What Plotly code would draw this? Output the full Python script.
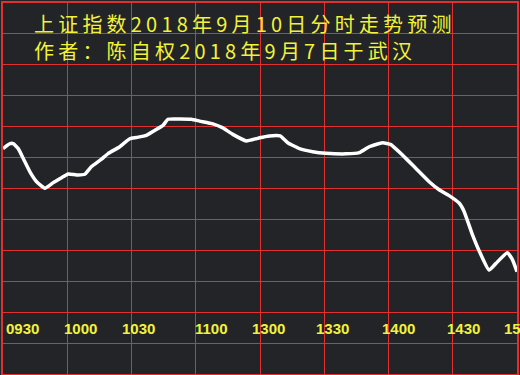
import plotly.graph_objects as go

# minutes after 09:30 (trading time) and predicted level (grid units)
minutes = [0, 3.26, 4.8, 7.13, 9.46, 12.58, 15.7, 19.57, 23.44, 27.35, 30.43, 34.35,
           38.21, 41.34, 46.0, 49.07, 54.52, 59.19, 62.31, 66.97, 70.84, 74.7, 77.03,
           80.95, 87.94, 91.81, 98.0, 102.66, 107.32, 113.57, 118.23, 119.77, 124.43,
           129.41, 132.96, 138.41, 144.61, 150.85, 160.17, 166.37, 171.03, 177.23,
           181.14, 186.55, 192.79, 199.0, 203.65, 208.31, 212.97, 215.3, 219.17,
           223.08, 226.95, 230.07, 235.48, 237.81, 240]
levels = [7.29, 7.45, 7.45, 7.29, 6.97, 6.54, 6.22, 6.01, 6.19, 6.35, 6.47, 6.44,
          6.46, 6.71, 6.95, 7.13, 7.35, 7.61, 7.65, 7.72, 7.88, 8.04, 8.24,
          8.25, 8.24, 8.18, 8.09, 7.96, 7.75, 7.54, 7.61, 7.64, 7.70,
          7.70, 7.48, 7.29, 7.19, 7.14, 7.12, 7.16, 7.35, 7.48,
          7.42, 7.08, 6.65, 6.22, 5.96, 5.77, 5.53, 5.26, 4.51,
          3.87, 3.36, 3.57, 3.92, 3.71, 3.31]

tick_labels = ["0930", "1000", "1030", "1100", "1300", "1330", "1400", "1430", "1500"]
tick_label_pos = [0.47, 27.6, 54.5, 88.7, 115.1, 145.4, 176.2, 206.4, 233.0]

title_lines = ["上证指数2018年9月10日分时走势预测", "作者：陈自权2018年9月7日于武汉"]

BG = "#222428"
RED = "#e03030"
YEL = "#f2f23a"

fig = go.Figure()
fig.add_trace(go.Scatter(x=minutes, y=levels, mode="lines",
                         line=dict(color="white", width=3.5, shape="spline", smoothing=0.4),
                         hoverinfo="skip"))

for txt, pos in zip(tick_labels, tick_label_pos):
    fig.add_annotation(x=pos, y=1.48, xref="x", yref="y", text=txt, showarrow=False,
                       xanchor="left", yanchor="middle",
                       font=dict(family="Liberation Sans", size=15, color=YEL, weight="bold"))

for i, txt in enumerate(title_lines):
    fig.add_annotation(x=0.0583, y=[0.945, 0.8727][i], xref="paper", yref="paper",
                       text='<span style="letter-spacing:4.2px">' + txt + '</span>',
                       showarrow=False, xanchor="left", yanchor="middle", borderpad=0,
                       font=dict(family="Noto Sans CJK SC", size=20, color=YEL))

fig.update_layout(
    width=520, height=375,
    margin=dict(l=3, r=2, t=1, b=1),
    paper_bgcolor=BG, plot_bgcolor=BG,
    showlegend=False,
    xaxis=dict(range=[0, 240], dtick=30, tick0=0, showgrid=True, gridcolor=RED, gridwidth=1,
               showticklabels=False, ticks="", zeroline=False, showline=True, linecolor=RED,
               linewidth=2, mirror=True, fixedrange=True),
    yaxis=dict(range=[0, 12], dtick=1, tick0=0, showgrid=True, gridcolor=RED, gridwidth=1,
               showticklabels=False, ticks="", zeroline=False, showline=True, linecolor=RED,
               linewidth=2, mirror=True, fixedrange=True),
)

fig.write_html("out.html", config={"displayModeBar": False})
